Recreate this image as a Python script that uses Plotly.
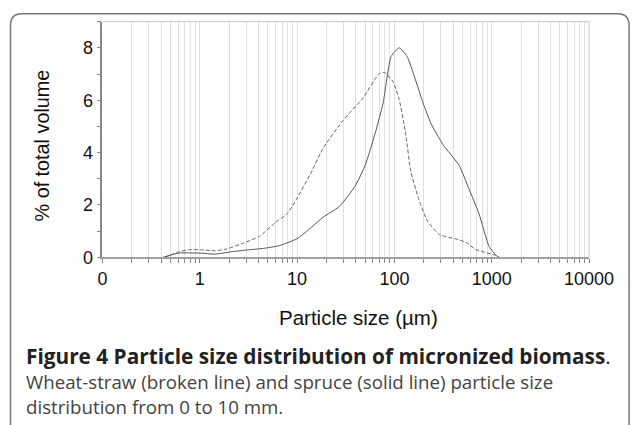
import plotly.graph_objects as go

# ---- data ----
wheat_size = [0.44, 0.61, 0.78, 1.0, 1.44, 1.9, 2.8, 4.1, 6.0, 7.9, 10, 14, 18.5, 29.7, 47.7,
              69.7, 80, 97, 112, 129, 148, 179, 217, 289, 460, 560, 680, 1080, 1180]
wheat_vol = [0.0, 0.21, 0.29, 0.29, 0.25, 0.32, 0.54, 0.8, 1.33, 1.66, 2.26, 3.25, 4.17, 5.23, 6.09,
             7.01, 7.05, 6.7, 6.02, 4.83, 3.25, 2.19, 1.4, 0.87, 0.67, 0.54, 0.3, 0.08, 0.0]

spruce_size = [0.42, 0.61, 1.0, 1.44, 2.1, 3.07, 4.5, 6.5, 10, 14, 18.5, 27, 39.5, 50, 63, 76.5,
               92.5, 112, 135, 197, 238, 316, 462, 585, 740, 940, 1135, 1200]
spruce_vol = [0.0, 0.16, 0.16, 0.12, 0.21, 0.28, 0.34, 0.44, 0.71, 1.14, 1.53, 1.93, 2.72, 3.51, 4.7, 5.89,
              7.67, 8.0, 7.67, 5.89, 5.1, 4.3, 3.51, 2.6, 1.66, 0.41, 0.04, 0.0]

x_tickvals = [0.1, 1, 10, 100, 1000, 10000]
x_ticktext = ["0", "1", "10", "100", "1000", "10000"]
x_minor = [m * d for d in [0.1, 1, 10, 100, 1000] for m in range(2, 10)]
y_tickvals = [0, 2, 4, 6, 8]

# page size chosen so the photographed picture lines up with the reference layout
SX, BX, SY, BY = 0.955, 4.5, 0.9745, 0.4
W, H = 657, 436
PL, PR, PT, PB = 102, 589, 22, 257  # plot area in reference px
FONT = "Liberation Sans"


def px(x):
    return ((x - BX) / SX) / W


def py(y):
    return 1 - ((y - BY) / SY) / H


fig = go.Figure()
fig.add_trace(go.Scatter(x=wheat_size, y=wheat_vol, mode="lines", name="Wheat-straw",
                         line=dict(color="#666666", width=1, dash="4px,2px", shape="spline", smoothing=0.5)))
fig.add_trace(go.Scatter(x=spruce_size, y=spruce_vol, mode="lines", name="Spruce",
                         line=dict(color="#555555", width=1, shape="spline", smoothing=0.5)))

fig.update_layout(
    width=W, height=H,
    margin=dict(l=0, r=0, t=0, b=0),
    paper_bgcolor="white", plot_bgcolor="white",
    showlegend=False,
    font=dict(family=FONT, color="#111111"),
    xaxis=dict(
        type="log", range=[-1, 4], domain=[px(PL), px(PR)],
        tickmode="array", tickvals=x_tickvals, ticktext=x_ticktext,
        tickfont=dict(size=18, family=FONT, color="#111111"),
        ticks="outside", ticklen=4, tickcolor="#888888", tickwidth=1,
        showgrid=True, gridcolor="#e0e0e0", gridwidth=1,
        minor=dict(tickmode="array", tickvals=x_minor, ticks="outside", ticklen=4,
                   tickcolor="#888888", showgrid=True, gridcolor="#e0e0e0", gridwidth=1),
        showline=True, linecolor="#a0a0a0", linewidth=2, mirror=False,
        zeroline=False,
    ),
    yaxis=dict(
        range=[0, 9], domain=[py(PB), py(PT)],
        tickmode="array", tickvals=y_tickvals,
        tickfont=dict(size=18, family=FONT, color="#111111"),
        ticks="outside", ticklen=4, tickcolor="#888888", tickwidth=1,
        minor=dict(tickmode="linear", tick0=0, dtick=1, ticks="outside", ticklen=4, tickcolor="#888888",
                   showgrid=False),
        showgrid=False, showline=True, linecolor="#888888", linewidth=1.5,
        zeroline=False,
    ),
)

# plot frame (top and right)
fig.add_shape(type="line", xref="paper", yref="paper", x0=px(PL), x1=px(PR), y0=py(PT), y1=py(PT),
              line=dict(color="#c8c8c8", width=1))
fig.add_shape(type="line", xref="paper", yref="paper", x0=px(PR), x1=px(PR), y0=py(PT), y1=py(PB),
              line=dict(color="#c8c8c8", width=1))

# rounded outer border
x0, x1, yt, yb, r = 10, 629, 14, 440, 12
rx, ry = r / W, r / H
X0, X1, YT, YB = px(x0), px(x1), py(yt), py(yb)
path = (f"M {X0+rx},{YT} L {X1-rx},{YT} Q {X1},{YT} {X1},{YT-ry} L {X1},{YB+ry} "
        f"Q {X1},{YB} {X1-rx},{YB} L {X0+rx},{YB} Q {X0},{YB} {X0},{YB+ry} "
        f"L {X0},{YT-ry} Q {X0},{YT} {X0+rx},{YT} Z")
fig.add_shape(type="path", xref="paper", yref="paper", path=path,
              line=dict(color="#777777", width=1.5))

# axis titles
fig.add_annotation(xref="paper", yref="paper", x=px(358), y=py(317), text="Particle size (µm)",
                   showarrow=False, xanchor="center", yanchor="middle",
                   font=dict(size=20.5, family=FONT, color="#111111"))
fig.add_annotation(xref="paper", yref="paper", x=px(42), y=py(145), text="% of total volume",
                   showarrow=False, textangle=-90, xanchor="center", yanchor="middle",
                   font=dict(size=19.8, family=FONT, color="#111111"))

# caption
fig.add_annotation(xref="paper", yref="paper", x=px(24), y=py(355),
                   text="<b>Figure 4 Particle size distribution of micronized biomass</b>.",
                   showarrow=False, xanchor="left", yanchor="middle",
                   font=dict(size=20.8, family="Open Sans", color="#222222"))
fig.add_annotation(xref="paper", yref="paper", x=px(24), y=py(381),
                   text="Wheat-straw (broken line) and spruce (solid line) particle size",
                   showarrow=False, xanchor="left", yanchor="middle",
                   font=dict(size=18.7, family="Open Sans", color="#444444"))
fig.add_annotation(xref="paper", yref="paper", x=px(24), y=py(406),
                   text="distribution from 0 to 10 mm.",
                   showarrow=False, xanchor="left", yanchor="middle",
                   font=dict(size=18.7, family="Open Sans", color="#444444"))

fig.write_html("out.html", config={"displayModeBar": False},
               post_script="document.body.style.margin='0';")
